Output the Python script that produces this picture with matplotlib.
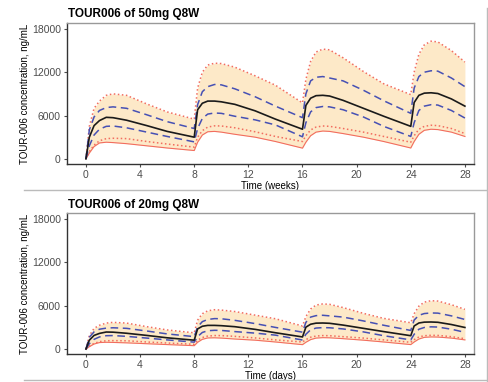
import numpy as np
import matplotlib.pyplot as plt
from matplotlib.lines import Line2D

plt.rcParams['font.family'] = ['Liberation Sans', 'DejaVu Sans']

# time after first dose (weeks), dosing every 8 weeks
time = [0, 0.25, 0.6, 1, 1.5, 2, 3, 4.5, 6, 8,
        8.25, 8.6, 9, 9.5, 10, 11, 12.5, 14, 16,
        16.25, 16.6, 17, 17.5, 18, 19, 20.5, 22, 24,
        24.25, 24.6, 25, 25.5, 26, 27, 28]

# 50 mg Q8W
hi_50 = [0, 4500, 7000, 8000, 8800, 9000, 8800, 7600, 6500, 5500,
         9800, 12000, 13000, 13250, 13200, 12700, 11500, 10200, 7750,
         11000, 13500, 14800, 15200, 15100, 14000, 12100, 10400, 8900,
         12000, 14500, 15800, 16300, 16200, 15000, 13400]
q3_50 = [0, 4000, 5800, 6700, 7100, 7200, 7000, 6100, 5150, 4200,
         7500, 9300, 10000, 10300, 10250, 9700, 8600, 7300, 5700,
         9000, 10800, 11300, 11400, 11200, 10800, 9500, 8050, 6300,
         9800, 11400, 12000, 12200, 12150, 11200, 10000]
med_50 = [0, 3000, 4600, 5300, 5750, 5700, 5350, 4600, 3800, 3000,
          6800, 7700, 8000, 8000, 7900, 7550, 6650, 5500, 4100,
          7400, 8400, 8750, 8800, 8700, 8100, 7000, 5900, 4500,
          7800, 8800, 9100, 9150, 9050, 8300, 7300]
q1_50 = [0, 1800, 3300, 4100, 4500, 4550, 4300, 3700, 3100, 2350,
         4200, 5600, 6200, 6350, 6300, 5900, 5400, 4700, 3050,
         5000, 6500, 7100, 7250, 7200, 6800, 5800, 4500, 3100,
         5000, 6700, 7300, 7500, 7450, 6700, 5650]
lo_50 = [0, 1000, 1900, 2500, 2800, 2850, 2800, 2400, 2050, 1620,
         3000, 3900, 4400, 4570, 4550, 4300, 3750, 3100, 2400,
         3200, 4000, 4400, 4550, 4500, 4200, 3700, 3100, 2300,
         3200, 4100, 4500, 4650, 4600, 4200, 3500]
min_50 = [0, 800, 1700, 2200, 2300, 2250, 2100, 1800, 1500, 1150,
          2300, 3300, 3750, 3800, 3700, 3400, 3000, 2400, 1480,
          2300, 3200, 3700, 3850, 3800, 3500, 3000, 2400, 1500,
          2400, 3400, 3950, 4100, 4050, 3700, 3100]

# 20 mg Q8W
hi_20 = [0, 1850, 2870, 3300, 3600, 3700, 3600, 3100, 2650, 2250,
         4000, 4900, 5300, 5450, 5400, 5200, 4700, 4200, 3200,
         4500, 5550, 6100, 6250, 6200, 5750, 4950, 4250, 3650,
         4900, 5950, 6500, 6700, 6650, 6150, 5500]
q3_20 = [0, 1640, 2380, 2750, 2900, 2950, 2870, 2500, 2100, 1720,
         3080, 3800, 4100, 4220, 4200, 3980, 3530, 3000, 2340,
         3700, 4430, 4630, 4680, 4600, 4430, 3900, 3300, 2580,
         4020, 4680, 4920, 5000, 4980, 4600, 4100]
med_20 = [0, 1230, 1890, 2170, 2360, 2340, 2190, 1890, 1560, 1230,
          2790, 3160, 3280, 3280, 3240, 3100, 2730, 2260, 1680,
          3030, 3440, 3590, 3610, 3570, 3320, 2870, 2420, 1850,
          3200, 3610, 3730, 3750, 3710, 3400, 2990]
q1_20 = [0, 740, 1350, 1680, 1850, 1870, 1760, 1520, 1270, 960,
         1720, 2300, 2540, 2600, 2580, 2420, 2210, 1930, 1250,
         2050, 2670, 2910, 2970, 2950, 2790, 2380, 1850, 1270,
         2050, 2750, 2990, 3080, 3050, 2750, 2320]
lo_20 = [0, 410, 780, 1030, 1150, 1170, 1150, 980, 840, 660,
         1230, 1600, 1800, 1870, 1870, 1760, 1540, 1270, 980,
         1310, 1640, 1800, 1870, 1850, 1720, 1520, 1270, 940,
         1310, 1680, 1850, 1910, 1890, 1720, 1440]
min_20 = [0, 330, 700, 900, 940, 920, 860, 740, 620, 470,
          940, 1350, 1540, 1560, 1520, 1390, 1230, 980, 610,
          940, 1310, 1520, 1580, 1560, 1440, 1230, 980, 620,
          980, 1390, 1620, 1680, 1660, 1520, 1270]

panels = [
    ('TOUR006 of 50mg Q8W', 'Time (weeks)', hi_50, q3_50, med_50, q1_50, lo_50, min_50),
    ('TOUR006 of 20mg Q8W', 'Time (days)', hi_20, q3_20, med_20, q1_20, lo_20, min_20),
]

red = '#f26d5f'
blue = '#4650b4'
fill = '#fde9c8'

fig = plt.figure(figsize=(4.89, 3.82), dpi=100)
boxes = [[0.137, 0.571, 0.832, 0.369], [0.137, 0.073, 0.832, 0.369]]

for box, (title, xlab, hi, q3, med, q1, lo, mn) in zip(boxes, panels):
    ax = fig.add_axes(box)
    ax.fill_between(time, mn, hi, color=fill, lw=0)
    ax.plot(time, hi, ':', color=red, lw=1.1)
    ax.plot(time, lo, ':', color=red, lw=1.1)
    ax.plot(time, mn, '-', color=red, lw=0.8)
    ax.plot(time, q3, '--', color=blue, lw=1.1, dashes=(5, 3))
    ax.plot(time, q1, '--', color=blue, lw=1.1, dashes=(5, 3))
    ax.plot(time, med, '-', color='#1a1a1a', lw=1.2)

    ax.set_xlim(-1.4, 28.66)
    ax.set_ylim(-700, 18830)
    ax.set_xticks(range(0, 29, 4))
    ax.set_yticks([0, 6000, 12000, 18000])
    ax.tick_params(labelsize=7.5, colors='#4d4d4d', length=2.5, width=0.8, pad=2)
    ax.set_title(title, loc='left', fontsize=8.5, fontweight='bold', pad=4, x=0.003)
    ax.set_xlabel(xlab, fontsize=7, labelpad=0.5)
    ax.set_ylabel('TOUR-006 concentration, ng/mL', fontsize=7, labelpad=1)
    for s in ['left', 'bottom']:
        ax.spines[s].set_color('#333333')
        ax.spines[s].set_linewidth(1.0)
    for s in ['top', 'right']:
        ax.spines[s].set_color('#999999')
        ax.spines[s].set_linewidth(1.0)

# screenshot frame lines
fig.add_artist(Line2D([0.05, 0.995], [0.503, 0.503], transform=fig.transFigure, color='#bbbbbb', lw=1))
fig.add_artist(Line2D([0.05, 0.995], [0.004, 0.004], transform=fig.transFigure, color='#bbbbbb', lw=1))
fig.add_artist(Line2D([0.995, 0.995], [0.0, 0.98], transform=fig.transFigure, color='#bbbbbb', lw=1))

fig.savefig('out.png', dpi=100)
